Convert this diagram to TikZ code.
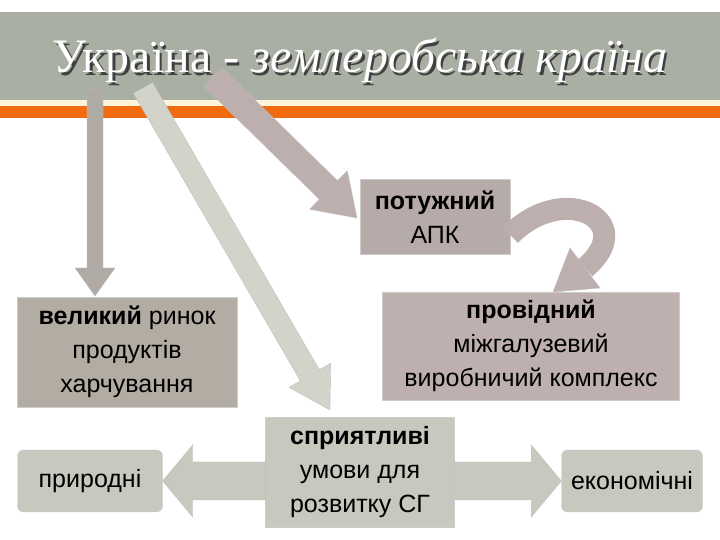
\documentclass[tikz,border=0pt]{standalone}
\usepackage{fontspec}
\setmainfont{Liberation Sans}
\newfontfamily\titlefont{Liberation Serif}
\usetikzlibrary{calc}
\definecolor{banner}{HTML}{A9AFA2}
\definecolor{orng}{HTML}{F26B10}
\definecolor{cream}{HTML}{FDF3D8}
\definecolor{boxA}{HTML}{B7ABA9}
\definecolor{boxB}{HTML}{B3ACA3}
\definecolor{boxC}{HTML}{BFB0B0}
\definecolor{boxD}{HTML}{C6C9BE}
\definecolor{arrA}{HTML}{AFABA4}
\definecolor{arrB}{HTML}{D2D4CA}
\definecolor{arrC}{HTML}{BCAFAD}
\newcommand\barrow[6]{%
 \path let \p1=(#1), \p2=(#2), \n1={atan2(\y2-\y1,\x2-\x1)}, \n2={veclen(\x2-\x1,\y2-\y1)} in
 [fill=#6, draw=black!25] [shift={(\p1)}, rotate=\n1] (0,-#3) -- (\n2-#5,-#3) -- (\n2-#5,-#4) -- (\n2,0) -- (\n2-#5,#4) -- (\n2-#5,#3) -- (0,#3) -- cycle;}
\newcommand\ttl{Україна - \textit{землеробська країна}}
\tikzset{
 box/.style={draw=black!20, text=black, align=center, inner sep=0pt, font=\fontsize{25}{34}\selectfont},
}
\begin{document}
\begin{tikzpicture}[x=1pt,y=1pt]
\useasboundingbox (0,0) rectangle (720,540);
\fill[banner] (0,528) rectangle (720,440);
\fill[cream] (0,440) rectangle (720,434);
\fill[orng] (0,434) rectangle (720,422);
\node (title) [font=\titlefont\fontsize{48}{52}\selectfont] at (360,478) {\makebox[0pt][l]{\kern2.5pt\raisebox{-2.5pt}{\color{black!75}\ttl}}\color{white}\ttl};
% boxes
\node (apk) [box, fill=boxA, minimum width=150, minimum height=75] at (435,323) {\textbf{потужний}\\АПК};
\node (vel) [box, fill=boxB, minimum width=220, minimum height=110] at (127,188) {\textbf{великий} ринок\\продуктів\\харчування};
\node (prov) [box, fill=boxC, minimum width=297, minimum height=108] at (531,194) {\textbf{провідний}\\міжгалузевий\\виробничий комплекс};
\node (spr) [box, fill=boxD, minimum width=189, minimum height=110] at (360,68) {\textbf{сприятливі}\\умови для\\розвитку СГ};
\node (pryr) [box, fill=boxD, rounded corners=6, minimum width=145, minimum height=62] at (90,59) {природні};
\node (ekon) [box, fill=boxD, rounded corners=6, minimum width=141, minimum height=62] at (632,59) {економічні};
% arrow endpoints
\coordinate (a1s) at (95,450);
\coordinate (a2s) at (143,452);
\coordinate (a3s) at (213,463);
\coordinate (a1e) at (95,244);
\coordinate (a2e) at (330,130);
\coordinate (a3e) at (357,322);
\barrow{a1s}{a1e}{8}{20}{28}{arrA}
\barrow{a2s}{a2e}{11}{24}{40}{arrB}
\barrow{a3s}{a3e}{13}{27}{40}{arrC}
\coordinate (hl) at (spr.west |- pryr.east);
\coordinate (hr) at (spr.east |- ekon.west);
\barrow{hl}{pryr.east}{19}{36}{30}{boxD}
\barrow{hr}{ekon.west}{19}{36}{30}{boxD}
% curved arrow
\coordinate (cs) at (505,305);
\coordinate (cb) at (585,272);
\coordinate (ct) at (553,248);
\draw[line width=22, arrC] (apk.east |- cs) .. controls (565,360) and (640,318) .. (cb);
\fill[arrC, draw=black!25] ($(cb)+(15,-20)$) -- (ct) -- ($(cb)+(-15,20)$) -- cycle;
\end{tikzpicture}
\end{document}
